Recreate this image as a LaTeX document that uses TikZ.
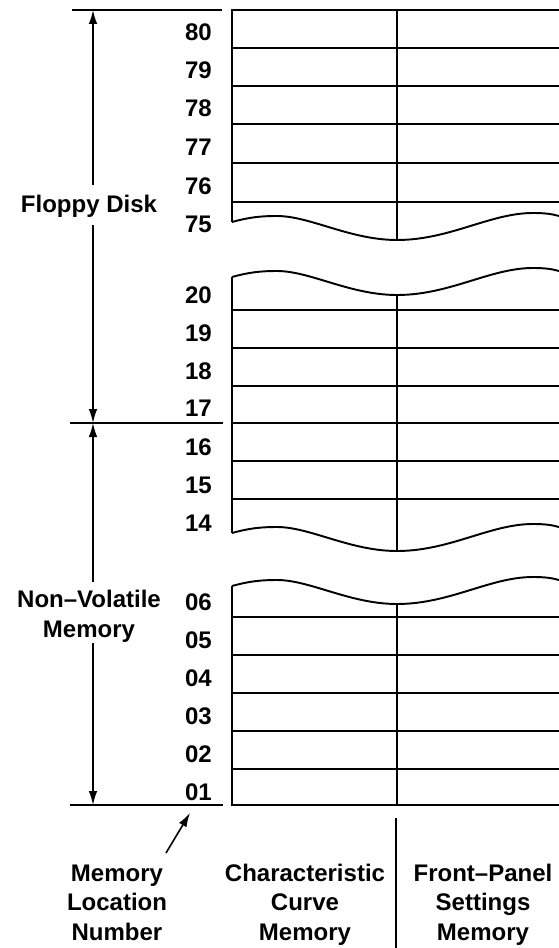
\documentclass[tikz,border=0pt]{standalone}
\usepackage{fontspec}
\setmainfont{Liberation Sans}
\usetikzlibrary{arrows.meta}
\begin{document}
\begin{tikzpicture}[x=0.75pt,y=-0.75pt,
  tbl/.style={line width=1.45pt},
  guide/.style={line width=1.35pt},
  dim/.style={line width=1.2pt,-{Latex[length=10.5pt,width=6.5pt]}},
  num/.style={font=\bfseries\fontsize{18}{22}\selectfont,anchor=base east,inner sep=0pt},
  lbl/.style={font=\bfseries\fontsize{18}{22}\selectfont,anchor=base,inner sep=0pt},
  memwave/.pic={\draw[tbl] (232,0) .. controls (250,-5) and (262,-6) .. (277,-6)
     .. controls (310,-6) and (350,18) .. (397,18)
     .. controls (450,18) and (490,-9) .. (533,-9)
     .. controls (545,-9) and (552,-8) .. (559,-6);}]
\useasboundingbox (0,0) rectangle (559,948);

% ---------- block 1 (80..75)
\draw[tbl] (232,222) -- (232,10) -- (559,10);
\foreach \y in {48,86,124,163,202} \draw[tbl] (232,\y) -- (559,\y);
\draw[tbl] (397,10) -- (397,240);
\pic at (0,222) {memwave};
% ---------- block 2 (20..14)
\draw[tbl] (232,277) -- (232,533);
\foreach \y in {310,348,386,423,461,499} \draw[tbl] (232,\y) -- (559,\y);
\draw[tbl] (397,295) -- (397,551);
\pic at (0,277) {memwave};
\pic at (0,533) {memwave};
% ---------- block 3 (06..01)
\draw[tbl] (232,586) -- (232,805) -- (559,805);
\foreach \y in {617,655,693,731,769} \draw[tbl] (232,\y) -- (559,\y);
\draw[tbl] (397,604) -- (397,805);
\pic at (0,586) {memwave};
\draw[tbl] (396,818) -- (396,948);

% ---------- numbers
\foreach \n/\b in {80/41,79/79,78/117,77/156,76/195,75/233,
                   20/303,19/341,18/379,17/416,16/455,15/493,14/531,
                   06/610,05/648,04/686,03/724,02/762,01/800}
  \node[num] (n\n) at (212,\b) {\n};

% ---------- left guide lines
\coordinate (gtl) at (72,10);   \coordinate (gtr) at (222,10);
\coordinate (gml) at (70,423);  \coordinate (gmr) at (223,423);
\coordinate (gbl) at (70,805);  \coordinate (gbr) at (223,805);
\draw[guide] (gtl) -- (gtr);
\draw[guide] (gml) -- (gmr);
\draw[guide] (gbl) -- (gbr);

% ---------- labels
\node[lbl] (fd) at (89,213) {Floppy Disk};
\node[lbl] (nv1) at (89,607) {Non–Volatile};
\node[lbl] (nv2) at (89,637) {Memory};
\node[lbl] (ml1) at (117,881) {Memory};
\node[lbl] (ml2) at (117,910) {Location};
\node[lbl] (ml3) at (117,940) {Number};
\node[lbl] (cc1) at (305,881) {Characteristic};
\node[lbl] (cc2) at (305,910) {Curve};
\node[lbl] (cc3) at (305,940) {Memory};
\node[lbl] (fp1) at (483,881) {Front–Panel};
\node[lbl] (fp2) at (483,910) {Settings};
\node[lbl] (fp3) at (483,940) {Memory};

% ---------- dimension arrows
\coordinate (a1s) at (93,185); \coordinate (a1e) at (93,10);
\coordinate (a2s) at (93,225); \coordinate (a2e) at (93,423);
\coordinate (a3s) at (93,582); \coordinate (a3e) at (93,423);
\coordinate (a4s) at (93,643); \coordinate (a4e) at (93,805);
\draw[dim] (a1s) -- (a1e);
\draw[dim] (a2s) -- (a2e);
\draw[dim] (a3s) -- (a3e);
\draw[dim] (a4s) -- (a4e);
% pointer to location numbers
\coordinate (ps) at (166,853); \coordinate (pe) at (190,813);
\draw[dim] (ps) -- (pe);
\end{tikzpicture}
\end{document}
